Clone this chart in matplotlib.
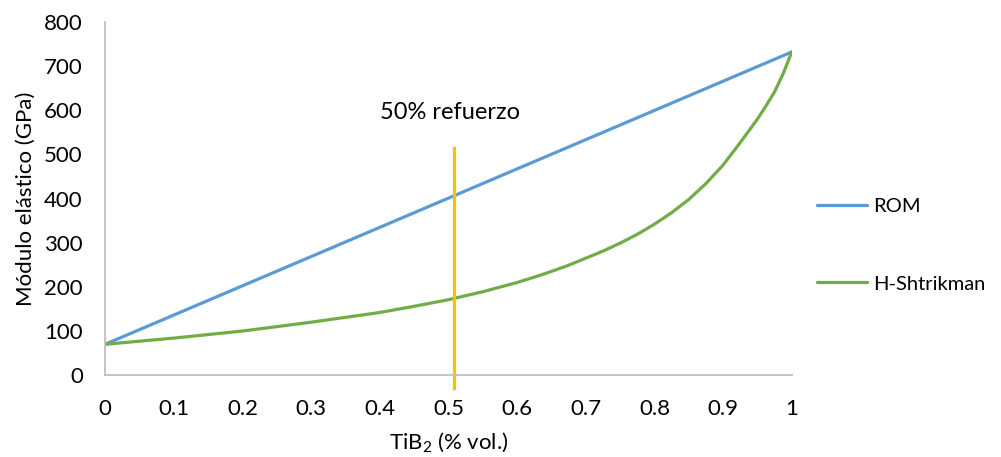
import matplotlib
matplotlib.use('Agg')
import matplotlib.pyplot as plt

# datos
rom_x = [0, 1]
rom = [70, 732]
frac = [0, 0.05, 0.1, 0.15, 0.2, 0.25, 0.3, 0.35, 0.4, 0.45, 0.5, 0.55,
        0.6, 0.625, 0.65, 0.675, 0.7, 0.725, 0.75, 0.775, 0.8, 0.825,
        0.85, 0.875, 0.9, 0.925, 0.95, 0.9625, 0.975, 0.9875, 1.0]
hs = [70, 77, 84, 92, 100, 110, 120, 131, 142, 156, 171, 189,
      210, 222, 235, 249, 265, 281, 299, 319, 342, 368,
      398, 434, 476, 527, 580, 610, 642, 683, 732]
refuerzo_x = [0.508, 0.508]
refuerzo_y = [-30, 515]
xticks = [0, 0.1, 0.2, 0.3, 0.4, 0.5, 0.6, 0.7, 0.8, 0.9, 1]
xtick_labels = ['0', '0.1', '0.2', '0.3', '0.4', '0.5', '0.6', '0.7', '0.8', '0.9', '1']
yticks = [0, 100, 200, 300, 400, 500, 600, 700, 800]

plt.rcParams['font.family'] = ['Lato', 'DejaVu Sans']
plt.rcParams['mathtext.fontset'] = 'custom'
plt.rcParams['mathtext.rm'] = 'Lato'
plt.rcParams['mathtext.it'] = 'Lato:italic'

fig = plt.figure(figsize=(10.01, 4.57), dpi=100)
ax = fig.add_axes([0.105, 0.179, 0.686, 0.773])

ax.plot(rom_x, rom, color='#5B9BD5', lw=2.3, label='ROM', solid_capstyle='round')
ax.plot(frac, hs, color='#70AD47', lw=2.3, label='H-Shtrikman',
        solid_capstyle='round', solid_joinstyle='round')
ax.plot(refuerzo_x, refuerzo_y, color='#FFC000', lw=2.3, clip_on=False)
ax.text(0.502, 596, '50% refuerzo', ha='center', va='center', fontsize=17)

ax.set_xlim(0, 1)
ax.set_ylim(0, 800)
ax.set_xticks(xticks)
ax.set_xticklabels(xtick_labels)
ax.set_yticks(yticks)
ax.tick_params(length=0, labelsize=16)
ax.tick_params(axis='x', pad=17)
ax.tick_params(axis='y', pad=16)
for s in ['top', 'right']:
    ax.spines[s].set_visible(False)
for s in ['left', 'bottom']:
    ax.spines[s].set_color('#BFBFBF')
    ax.spines[s].set_linewidth(1.3)

ax.set_xlabel('TiB$_2$ (% vol.)', fontsize=16, labelpad=8)
ax.set_ylabel('Módulo elástico (GPa)', fontsize=16, labelpad=6)

ax.legend(loc='center left', bbox_to_anchor=(1.01, 0.368), frameon=False,
          fontsize=14.5, labelspacing=3.0, handlelength=2.5, handletextpad=0.3)

fig.savefig('out.png', dpi=100)
